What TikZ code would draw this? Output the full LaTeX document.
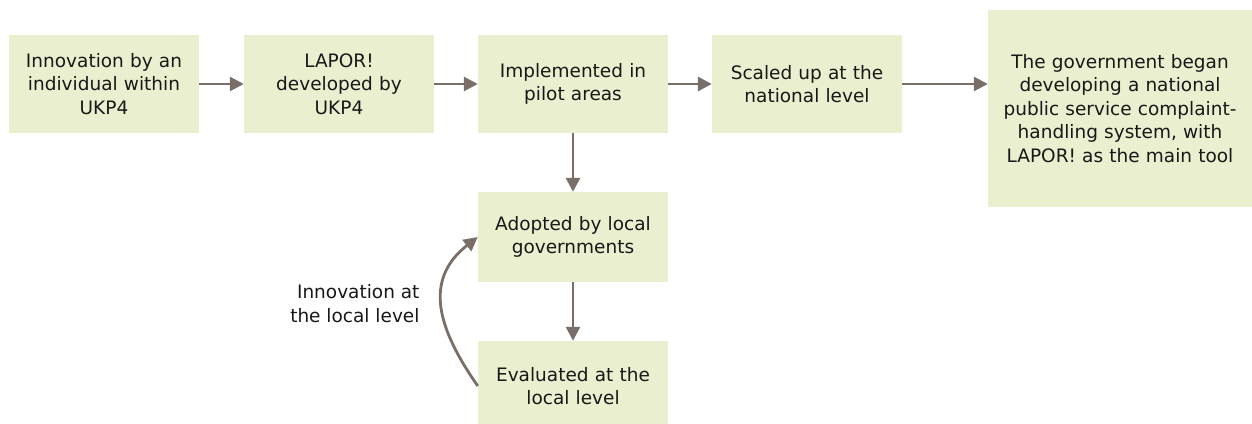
\documentclass[tikz,border=0pt]{standalone}
\usepackage{fontspec}
\setmainfont{DejaVu Sans}
\usepackage{xcolor}
\usepackage{tikz}
\usetikzlibrary{calc, arrows.meta}

\definecolor{boxgreen}{RGB}{234,240,207}
\definecolor{arrowgrey}{RGB}{122,110,104}
\definecolor{textgrey}{RGB}{24,24,24}

\begin{document}
\begin{tikzpicture}[x=1pt, y=1pt,
		font=\fontsize{18.5pt}{23.5pt}\selectfont,
		box/.style={fill=boxgreen, text=textgrey, align=center, inner sep=0pt,
			minimum width=190pt, minimum height=98pt, text width=186pt},
		flow/.style={draw=arrowgrey, line width=2.8pt,
			-{Triangle[length=14pt, width=14pt]}}]
					\clip (0,0) rectangle (1252,423);

					\draw
						(104,339) node[box] (innov) {Innovation by an\\individual within\\UKP4}
						(339,339) node[box] (lapor) {LAPOR!\\developed by\\UKP4}
						(573,339) node[box] (pilot) {Implemented in\\pilot areas}
						(807,339) node[box] (scaled) {Scaled up at the\\national level}

						(1120,314.5) node[box, minimum width=264pt, minimum height=197pt, text width=260pt] (govt)
							{The government began\\developing a national\\public service complaint-\\handling system, with\\LAPOR! as the main tool}

						(573,186) node[box, minimum height=90pt] (adopted) {Adopted by local\\governments}
						(573,37) node[box, minimum height=90pt] (evaluated) {Evaluated at the\\local level};

					\draw[flow] (innov.east) -- (lapor.west);
					\draw[flow] (lapor.east) -- (pilot.west);
					\draw[flow] (pilot.east) -- (scaled.west);
					\draw[flow] (scaled.east) -- (scaled.east -| govt.west);

					\draw[flow] (pilot.south) -- (adopted.north);
					\draw[flow] (adopted.south) -- (evaluated.north);

					\draw[flow] (evaluated.west) to[out=125, in=218, looseness=1.2] (adopted.west);

					\node[anchor=east, align=right, text=textgrey] (loop) at (423,119.5)
						{Innovation at\\the local level};
				\end{tikzpicture}
\end{document}
